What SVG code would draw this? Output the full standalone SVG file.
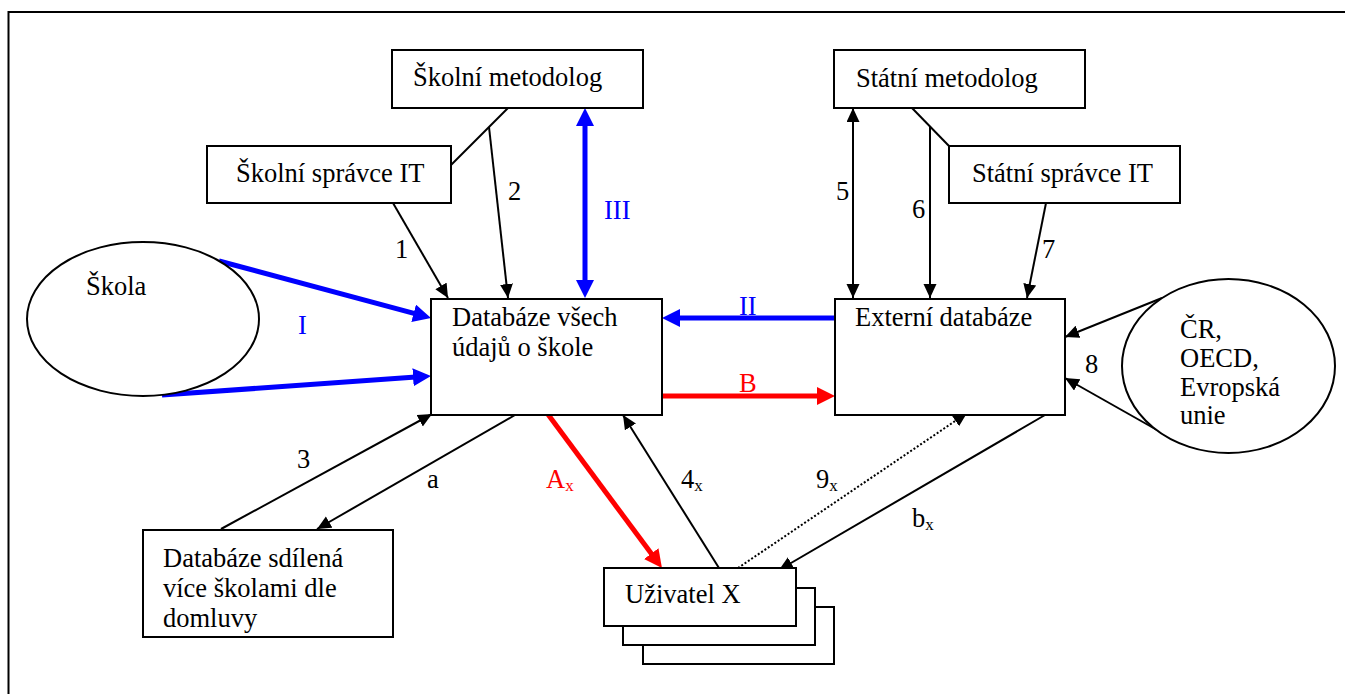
<svg xmlns="http://www.w3.org/2000/svg" width="1345" height="694" viewBox="0 0 1345 694">
  <style>
    text { font-family: 'Liberation Serif', 'Times New Roman', 'DejaVu Serif', serif; font-size: 26.5px; fill: #000; }
    .sub { font-size: 17px; }
    .blue { fill: #0000ff; }
    .red { fill: #ff0000; }
    .box { fill: #fff; stroke: #000; stroke-width: 2; }
    .ell { fill: #fff; stroke: #000; stroke-width: 2; }
    .ln { fill: none; stroke: #000; stroke-width: 2; }
    .dot { fill: none; stroke: #000; stroke-width: 2; stroke-dasharray: 2 2; }
    .bl { fill: none; stroke: #0000ff; stroke-width: 5; }
    .rd { fill: none; stroke: #ff0000; stroke-width: 5; }
  </style>
  <defs>
    <marker id="ah" markerUnits="userSpaceOnUse" markerWidth="16" markerHeight="14" refX="14" refY="6.5" orient="auto-start-reverse">
      <path d="M0,0 L14,6.5 L0,13 z" fill="#000"/>
    </marker>
    <marker id="ahBlue" markerUnits="userSpaceOnUse" markerWidth="20" markerHeight="20" refX="10" refY="9" orient="auto-start-reverse">
      <path d="M0,0 L18,9 L0,18 z" fill="#0000ff"/>
    </marker>
    <marker id="ahRed" markerUnits="userSpaceOnUse" markerWidth="20" markerHeight="20" refX="10" refY="9" orient="auto-start-reverse">
      <path d="M0,0 L18,9 L0,18 z" fill="#ff0000"/>
    </marker>
  </defs>

  <rect width="1345" height="694" fill="#fff"/>
  <!-- frame -->
  <rect x="8.5" y="12" width="1400" height="800" fill="none" stroke="#000" stroke-width="2"/>

  <!-- connectors -->
  <g id="connectors">
    <!-- school side -->
    <line class="ln" x1="508" y1="108" x2="451" y2="165"/>
    <line class="ln" x1="393" y1="203" x2="448" y2="298" marker-end="url(#ah)"/>
    <line class="ln" x1="489" y1="127" x2="508" y2="298" marker-end="url(#ah)"/>
    <line class="bl" x1="585" y1="116" x2="585" y2="290" marker-start="url(#ahBlue)" marker-end="url(#ahBlue)"/>
    <line class="bl" x1="219" y1="261" x2="423.3" y2="315.9" marker-end="url(#ahBlue)"/>
    <line class="bl" x1="162" y1="395" x2="423" y2="376.6" marker-end="url(#ahBlue)"/>
    <line class="ln" x1="221" y1="529" x2="432" y2="414" marker-end="url(#ah)"/>
    <line class="ln" x1="515" y1="415" x2="317" y2="529" marker-end="url(#ah)"/>
    <!-- state side -->
    <line class="ln" x1="912" y1="108" x2="949" y2="146"/>
    <line class="ln" x1="853" y1="108" x2="853" y2="298" marker-start="url(#ah)" marker-end="url(#ah)"/>
    <line class="ln" x1="930" y1="127" x2="930" y2="298" marker-end="url(#ah)"/>
    <line class="ln" x1="1046" y1="203" x2="1027" y2="298" marker-end="url(#ah)"/>
    <line class="ln" x1="1162" y1="298" x2="1065" y2="337" marker-end="url(#ah)"/>
    <line class="ln" x1="1157" y1="430" x2="1065" y2="378" marker-end="url(#ah)"/>
    <!-- between databases -->
    <line class="bl" x1="835" y1="318" x2="670" y2="318" marker-end="url(#ahBlue)"/>
    <line class="rd" x1="662" y1="396" x2="827" y2="396" marker-end="url(#ahRed)"/>
    <!-- user X -->
    <line class="rd" x1="547" y1="413" x2="657.2" y2="561.6" marker-end="url(#ahRed)"/>
    <line class="ln" x1="719" y1="568" x2="623" y2="415" marker-end="url(#ah)"/>
    <line class="dot" x1="738" y1="568" x2="967" y2="413" marker-end="url(#ah)"/>
    <line class="ln" x1="1045" y1="415" x2="779" y2="570" marker-end="url(#ah)"/>
  </g>

  <!-- nodes -->
  <g id="skolni-metodolog">
    <rect class="box" x="392" y="50" width="251" height="58"/>
    <text x="413" y="86" font-family="Liberation Serif">Školní metodolog</text>
  </g>
  <g id="skolni-spravce">
    <rect class="box" x="207" y="146" width="244" height="57"/>
    <text x="236" y="182" font-family="Liberation Serif">Školní správce IT</text>
  </g>
  <g id="statni-metodolog">
    <rect class="box" x="834" y="50" width="251" height="58"/>
    <text x="856" y="87" font-family="Liberation Serif">Státní metodolog</text>
  </g>
  <g id="statni-spravce">
    <rect class="box" x="949" y="146" width="231" height="57"/>
    <text x="972" y="182" font-family="Liberation Serif">Státní správce IT</text>
  </g>
  <g id="skola">
    <ellipse class="ell" cx="143" cy="319" rx="116" ry="77"/>
    <text x="86" y="295" font-family="Liberation Serif">Škola</text>
  </g>
  <g id="databaze-skoly">
    <rect class="box" x="431" y="299" width="231" height="116"/>
    <text x="452" y="326" font-family="Liberation Serif">Databáze všech</text>
    <text x="452" y="356" font-family="Liberation Serif">údajů o škole</text>
  </g>
  <g id="externi-databaze">
    <rect class="box" x="835" y="299" width="230" height="116"/>
    <text x="855" y="326" font-family="Liberation Serif">Externí databáze</text>
  </g>
  <g id="cr-oecd-eu">
    <ellipse class="ell" cx="1228.5" cy="366" rx="106.5" ry="87"/>
    <text x="1180" y="338" font-family="Liberation Serif">ČR,</text>
    <text x="1180" y="367" font-family="Liberation Serif">OECD,</text>
    <text x="1180" y="396" font-family="Liberation Serif">Evropská</text>
    <text x="1180" y="424" font-family="Liberation Serif">unie</text>
  </g>
  <g id="databaze-sdilena">
    <rect class="box" x="143" y="530" width="250" height="107"/>
    <text x="163" y="567" font-family="Liberation Serif">Databáze sdílená</text>
    <text x="163" y="597" font-family="Liberation Serif">více školami dle</text>
    <text x="163" y="627" font-family="Liberation Serif">domluvy</text>
  </g>
  <g id="uzivatel-x">
    <rect class="box" x="643" y="607" width="191" height="57"/>
    <rect class="box" x="623" y="588" width="192" height="57"/>
    <rect class="box" x="604" y="568" width="192" height="58"/>
    <text x="625" y="603" font-family="Liberation Serif">Uživatel X</text>
  </g>

  <!-- connector labels -->
  <g id="labels" font-family="Liberation Serif">
    <text x="395" y="258">1</text>
    <text x="508" y="200">2</text>
    <text class="blue" x="604" y="219">III</text>
    <text x="836" y="200">5</text>
    <text x="912" y="218">6</text>
    <text x="1042" y="258">7</text>
    <text x="1085" y="373">8</text>
    <text class="blue" x="298" y="334">I</text>
    <text class="blue" x="739" y="315">II</text>
    <text class="red" x="739" y="392">B</text>
    <text x="297" y="468">3</text>
    <text x="427" y="488">a</text>
    <text class="red" x="546" y="488">A<tspan class="sub" dy="3">x</tspan></text>
    <text x="681" y="488">4<tspan class="sub" dy="3">x</tspan></text>
    <text x="816" y="488">9<tspan class="sub" dy="3">x</tspan></text>
    <text x="912" y="527">b<tspan class="sub" dy="3">x</tspan></text>
  </g>
</svg>
